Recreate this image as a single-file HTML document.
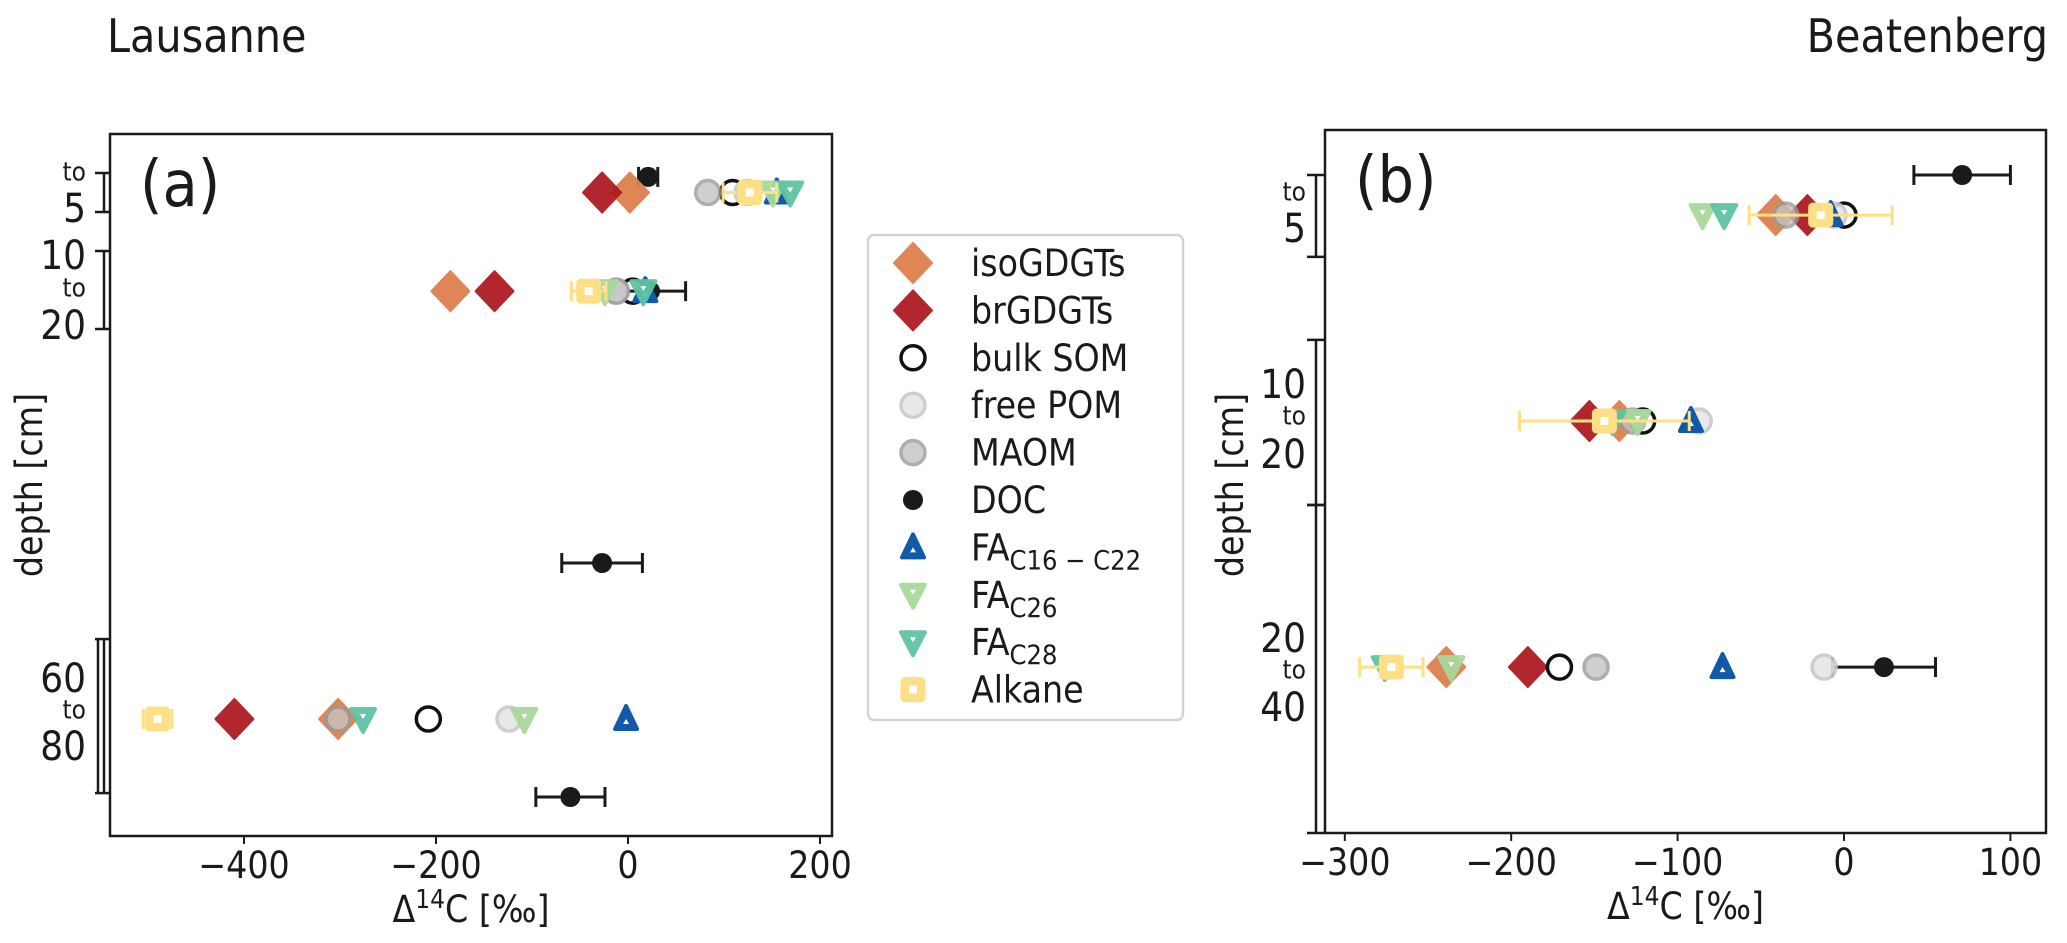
<!DOCTYPE html>
<html><head><meta charset="utf-8"><style>
body{margin:0;background:#fff}
svg text{font-family:"DejaVu Sans Condensed","DejaVu Sans","Liberation Sans",sans-serif;fill:#1a1a1a}
</style></head><body>
<svg id="fig" width="2067" height="938" viewBox="0 0 2067 938" xmlns="http://www.w3.org/2000/svg">
<text x="107" y="52" font-size="46">Lausanne</text>
<text x="2048" y="52" font-size="46" text-anchor="end">Beatenberg</text>
<g id="pa"></g>
<g id="pb"></g>
<g id="legend"></g>
</svg>
<script>
// ---- Panel (a) Lausanne data: values per depth row [0-5, 10-20, 60-80] ----
const aRows=[1.5,4.03,15];
const aIso=[2,-185,-302];
const aBr=[-27,-139,-410];
const aBulk=[109,5,-208];
const aFree=[124,-13,-124];
const aMaom=[83,-12,-302];
const aFA16=[155,18,-2];
const aFA26=[151,-24,-108];
const aFA28=[169,16,-276];
const aAlk=[127,-41,-490];
const aAlkErr=[28,18,15];
const aDocY=[1.1,4.03,11,17];
const aDoc=[21,23,-27,-60];
const aDocErr=[10,37,42,36];
const aXTicks=[-400,-200,0,200];
// ---- Panel (b) Beatenberg data ----
const bRows=[2.42,8.28,15.28];
const bIso=[-41,-135,-239];
const bBr=[-22,-153,-190];
const bBulk=[0,-121,-171];
const bFree=[-6,-87,-12];
const bMaom=[-35,-127,-149];
const bFA16=[-8,-92,-73];
const bFA26=[-85,-124,-236];
const bFA28=[-72,-139,-276];
const bAlk=[-14,-144,-272];
const bAlkErr=[43,51,19];
const bDocY=[1.28,15.28];
const bDoc=[71,24];
const bDocErr=[29,31];
const bXTicks=[-300,-200,-100,0,100];

const NS="http://www.w3.org/2000/svg";
function mk(parent,tag,attrs){const e=document.createElementNS(NS,tag);for(const k in attrs)e.setAttribute(k,attrs[k]);parent.appendChild(e);return e;}
const C={iso:"#de804e",br:"#ae1c22",fa16:"#1259a8",fa26:"#a8d99b",fa28:"#5ec4a2",alk:"#fddf86"};

function marker(g,kind,cx,cy){
  let e;
  if(kind==="iso"||kind==="br"){
    e=mk(g,"polygon",{points:`${cx},${cy-20} ${cx+19},${cy} ${cx},${cy+20} ${cx-19},${cy}`,fill:C[kind],stroke:C[kind],"stroke-width":2,"stroke-linejoin":"round",opacity:0.95});
  }else if(kind==="bulk"){
    e=mk(g,"circle",{cx,cy,r:12,fill:"none",stroke:"#111","stroke-width":3.5});
  }else if(kind==="free"){
    e=mk(g,"circle",{cx,cy,r:12,fill:"#e6e6e6",stroke:"#c9c9c9","stroke-width":3.5,opacity:0.9});
  }else if(kind==="maom"){
    e=mk(g,"circle",{cx,cy,r:12,fill:"#c4c4c4",stroke:"#9a9a9a","stroke-width":3.5,opacity:0.8});
  }else if(kind==="doc"){
    e=mk(g,"circle",{cx,cy,r:10,fill:"#1a1a1a"});
  }else if(kind==="fa16"){
    e=mk(g,"g",{});
    mk(e,"polygon",{points:`${cx},${cy-13} ${cx+11},${cy+10} ${cx-11},${cy+10}`,fill:C.fa16,stroke:C.fa16,"stroke-width":4,"stroke-linejoin":"round"});
    mk(e,"polygon",{points:`${cx},${cy} ${cx+3},${cy+5} ${cx-3},${cy+5}`,fill:"#fff"});
  }else if(kind==="fa26"||kind==="fa28"){
    e=mk(g,"g",{opacity:0.95});
    mk(e,"polygon",{points:`${cx-12},${cy-10} ${cx+12},${cy-10} ${cx},${cy+13}`,fill:C[kind],stroke:C[kind],"stroke-width":4,"stroke-linejoin":"round"});
    mk(e,"polygon",{points:`${cx-3},${cy-5} ${cx+3},${cy-5} ${cx},${cy}`,fill:"#fff"});
  }else if(kind==="alk"){
    e=mk(g,"g",{});
    mk(e,"rect",{x:cx-11,y:cy-11,width:22,height:22,rx:3,fill:C.alk,stroke:C.alk,"stroke-width":3});
    mk(e,"rect",{x:cx-4,y:cy-4,width:8,height:8,fill:"#fff"});
  }
  return e;
}
function errbar(g,x1,x2,y,color,w){
  const e=mk(g,"g",{});
  mk(e,"line",{x1,x2,y1:y,y2:y,stroke:color,"stroke-width":w});
  mk(e,"line",{x1:x1,x2:x1,y1:y-10,y2:y+10,stroke:color,"stroke-width":w});
  mk(e,"line",{x1:x2,x2:x2,y1:y-10,y2:y+10,stroke:color,"stroke-width":w});
  return e;
}

function panel(g,P){
  const {L,R,T,B,x,y}=P;
  const series=[["iso",P.iso],["br",P.br],["bulk",P.bulk],["free",P.free],["maom",P.maom],["fa16",P.fa16],["fa26",P.fa26],["fa28",P.fa28]];
  for(let i=0;i<P.doc.length;i++){
    const eb=errbar(g,x(P.doc[i]-P.docErr[i]),x(P.doc[i]+P.docErr[i]),y(P.docY[i]),"#1a1a1a",3);
    
    
    const m=marker(g,"doc",x(P.doc[i]),y(P.docY[i]));
    
    
  }
  for(const [k,arr] of series){
    for(let i=0;i<arr.length;i++){
      if(arr[i]==null)continue;
      const m=marker(g,k,x(arr[i]),y(P.rows[i]));
      
      
    }
  }
  for(let i=0;i<P.alk.length;i++){
    const eb=errbar(g,x(P.alk[i]-P.alkErr[i]),x(P.alk[i]+P.alkErr[i]),y(P.rows[i]),"#fddf86",3);
    
    
    const m=marker(g,"alk",x(P.alk[i]),y(P.rows[i]));
    
    
  }
  const fr=mk(g,"rect",{x:L,y:T,width:R-L,height:B-T,fill:"none",stroke:"#1a1a1a","stroke-width":2.5});
  
  
  for(const t of P.xticks){
    const tl=mk(g,"line",{x1:x(t),x2:x(t),y1:B,y2:B+8,stroke:"#1a1a1a","stroke-width":2});
    
    
    const tx=mk(g,"text",{x:x(t),y:B+42,"font-size":37,"text-anchor":"middle"});
    tx.textContent=(t<0?"\u2212":"")+Math.abs(t);
    
    
  }
  const xl=mk(g,"text",{x:(L+R)/2,y:B+86,"font-size":37,"text-anchor":"middle"});
  xl.innerHTML='Δ<tspan dy="-14" font-size="26">14</tspan><tspan dy="14">C [‰]</tspan>';
  
  
  const pl=mk(g,"text",{x:L+30,y:T+72,"font-size":64});
  pl.textContent=P.label;
  
  
  const yl=mk(g,"text",{x:0,y:0,"font-size":37,"text-anchor":"middle",transform:`translate(${P.ylx},485) rotate(-90)`});
  yl.textContent="depth [cm]";
  
  
  for(const br of P.brackets){
    const bg=mk(g,"g",{});
    
    
    mk(bg,"line",{x1:P.bx,x2:P.bx,y1:y(br[0]),y2:y(br[1]),stroke:"#1a1a1a","stroke-width":2.5});
    if(br[2])mk(bg,"line",{x1:P.bx-6,x2:P.bx-6,y1:y(br[0]),y2:y(br[1]),stroke:"#1a1a1a","stroke-width":2.5});
    for(const v of [br[0],br[1]])mk(bg,"line",{x1:P.bx-9,x2:L,y1:y(v),y2:y(v),stroke:"#1a1a1a","stroke-width":2.5});
  }
  for(const lb of P.ylabels){
    const t=mk(g,"text",{x:P.lx,y:lb[1],"font-size":lb[0]==="to"?26:40,"text-anchor":"end","dominant-baseline":"middle"});
    t.textContent=lb[0];
    
    
  }
}

const xa=v=>628+v*0.96, ya=u=>134+u*39;
panel(document.getElementById("pa"),{L:110,R:832,T:134,B:836,x:xa,y:ya,label:"(a)",ylx:42,
 rows:aRows,iso:aIso,br:aBr,bulk:aBulk,free:aFree,maom:aMaom,fa16:aFA16,fa26:aFA26,fa28:aFA28,alk:aAlk,alkErr:aAlkErr,
 doc:aDoc,docY:aDocY,docErr:aDocErr,xticks:aXTicks,bx:104,lx:86,
 brackets:[[1,2,false],[3,5,false],[12.95,16.9,true]],
 ylabels:[["to",173],["5",211],["10",258],["to",289],["20",328],["60",681],["to",711],["80",749]]});
const xb=v=>1844+v*1.664, yb=u=>130+u*35.15;
panel(document.getElementById("pb"),{L:1325,R:2046,T:130,B:833,x:xb,y:yb,label:"(b)",ylx:1243,
 rows:bRows,iso:bIso,br:bBr,bulk:bBulk,free:bFree,maom:bMaom,fa16:bFA16,fa26:bFA26,fa28:bFA28,alk:bAlk,alkErr:bAlkErr,
 doc:bDoc,docY:bDocY,docErr:bDocErr,xticks:bXTicks,bx:1316,lx:1306,
 brackets:[[1.28,3.61,false],[5.97,10.67,false],[10.67,20,false]],
 ylabels:[["to",193],["5",231],["10",387],["to",417],["20",457],["20",641],["to",671],["40",710]]});

const lg=document.getElementById("legend");
const box=mk(lg,"rect",{x:868,y:235,width:315,height:485,rx:6,fill:"#fff",stroke:"#d4d4d4","stroke-width":2.5});


const legKeys=["iso","br","bulk","free","maom","doc","fa16","fa26","fa28","alk"];
const legLabels=["isoGDGTs","brGDGTs","bulk SOM","free POM","MAOM","DOC","FA|C16 − C22","FA|C26","FA|C28","Alkane"];
for(let i=0;i<legKeys.length;i++){
  const yy=263+i*47.4;
  const m=marker(lg,legKeys[i],913,yy);
  
  
  const t=mk(lg,"text",{x:971,y:yy+13,"font-size":37});
  const parts=legLabels[i].split("|");
  if(parts.length>1)t.innerHTML=parts[0]+'<tspan dy="9" font-size="27">'+parts[1]+'</tspan>';
  else t.textContent=parts[0];
  
  
}
</script>
</body></html>
